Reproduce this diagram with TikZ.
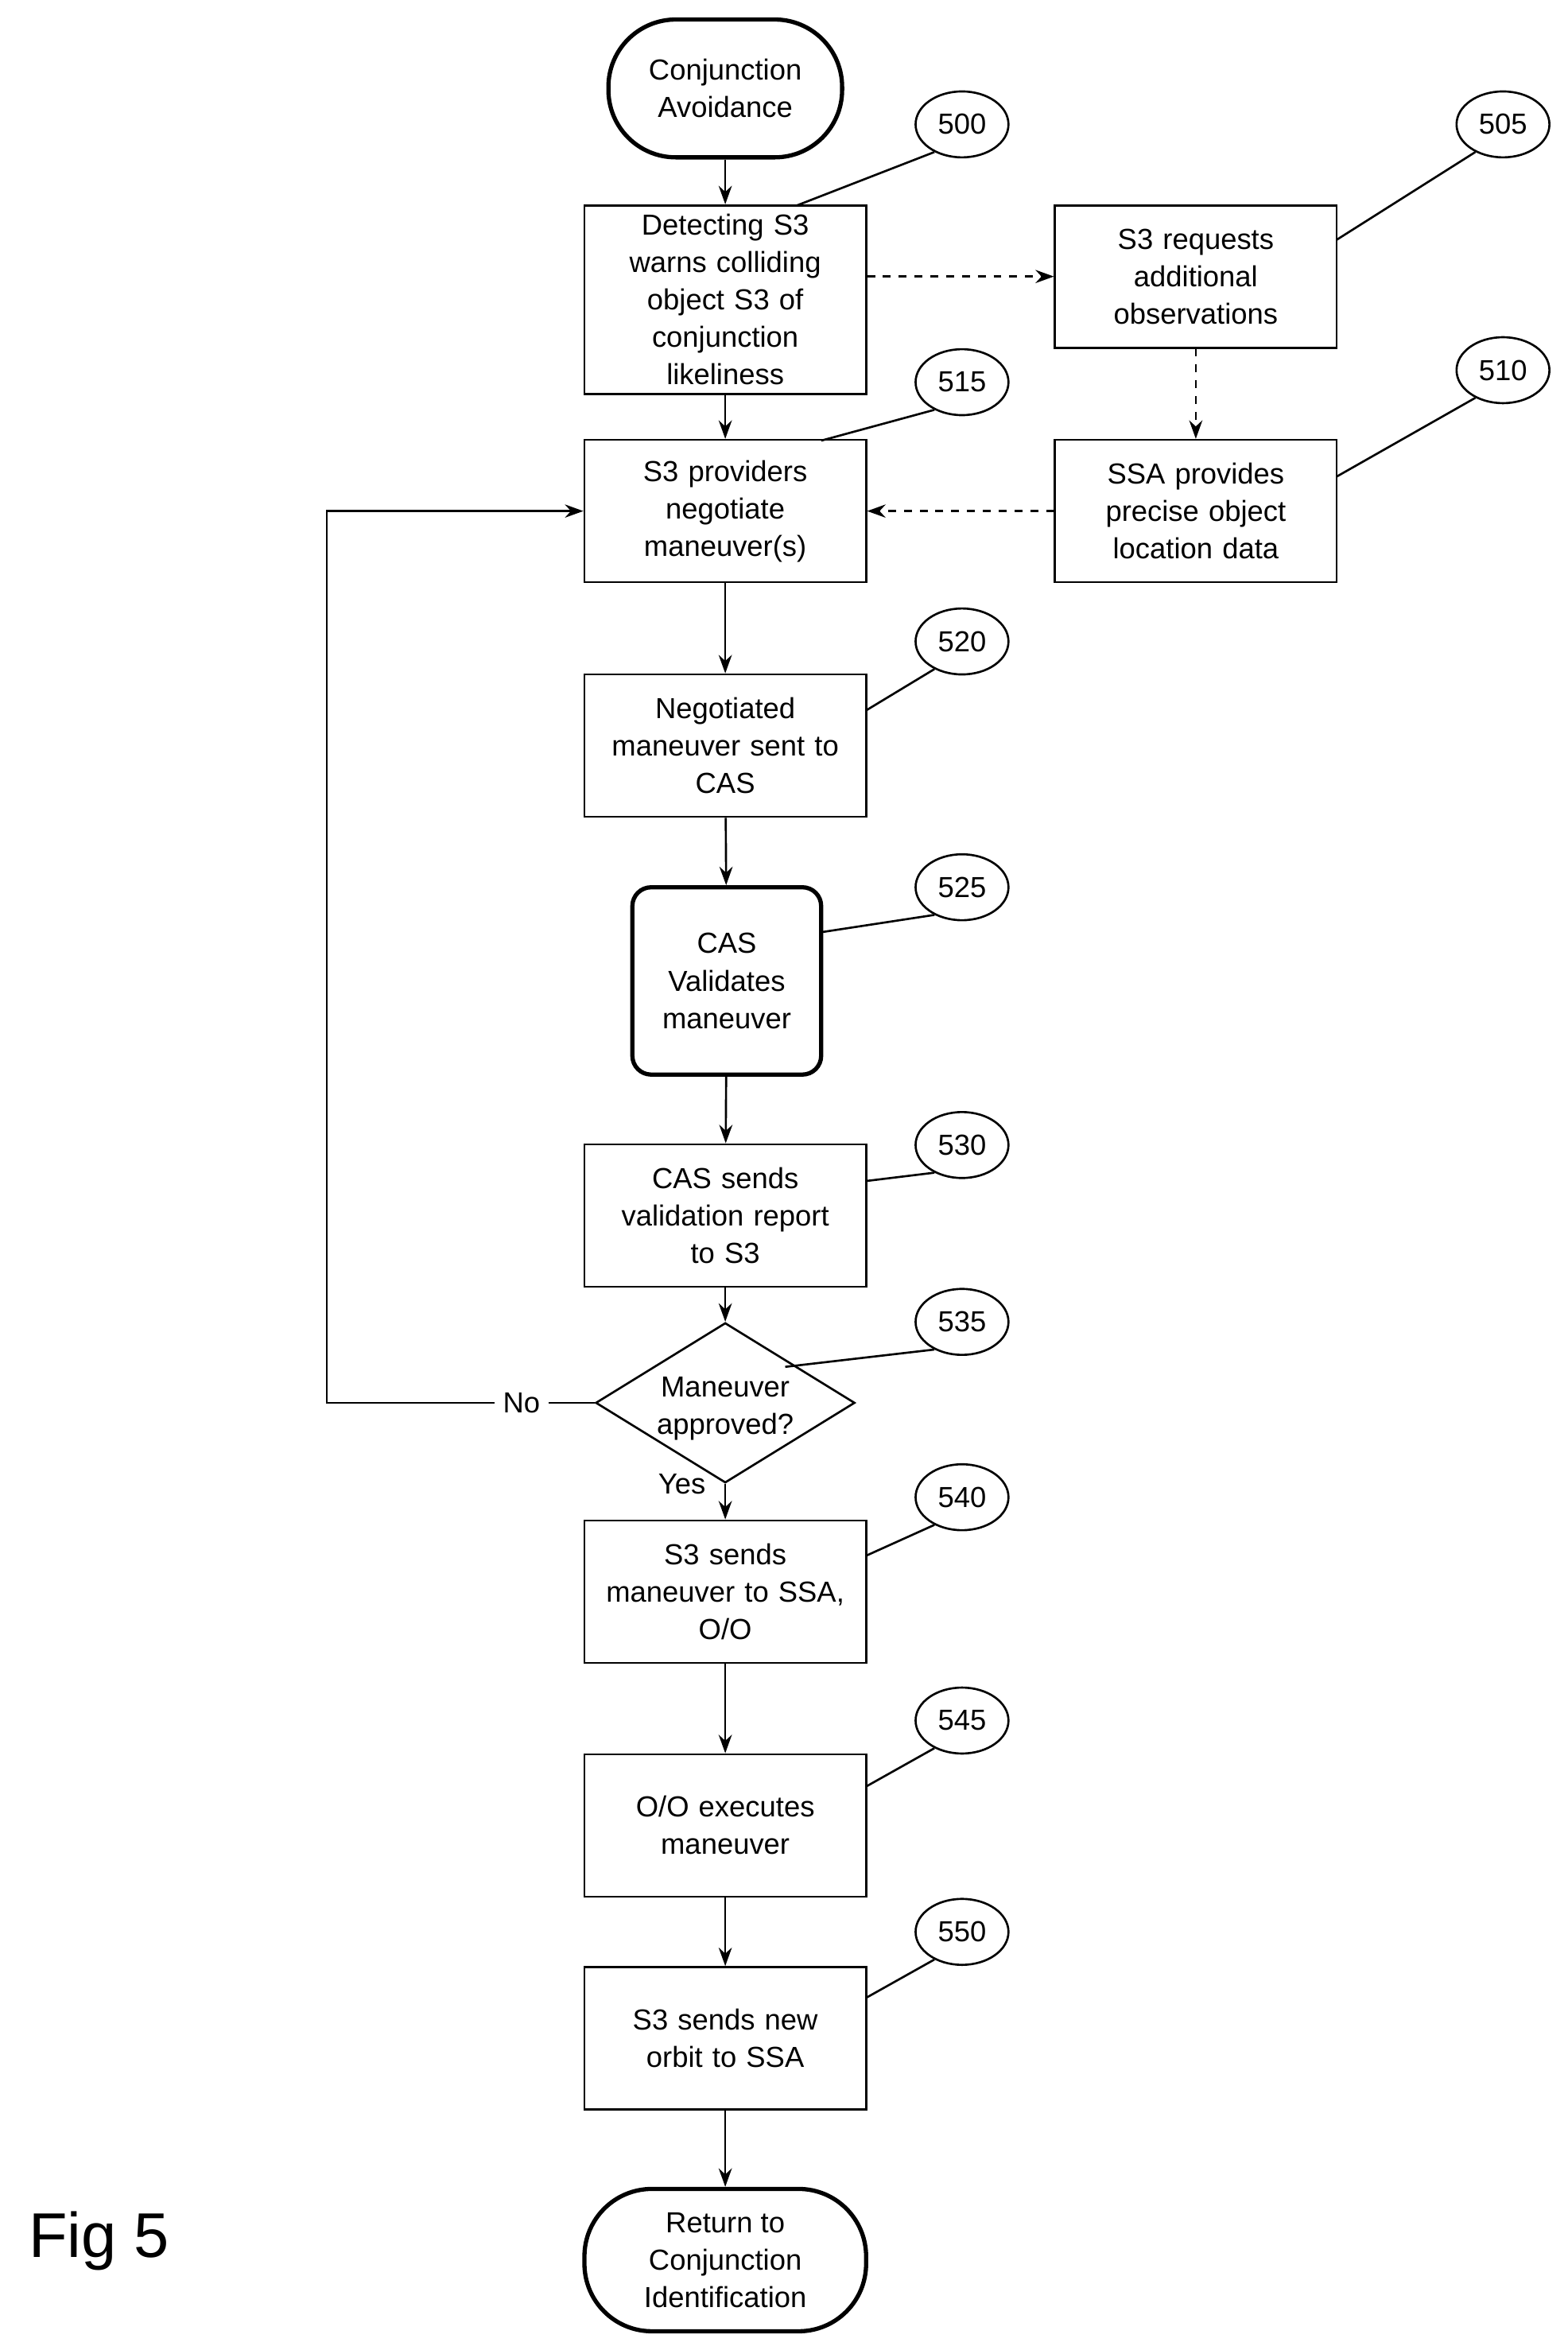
\documentclass[tikz,border=0pt]{standalone}
\usepackage{fontspec}
\setmainfont{Liberation Sans}
\usetikzlibrary{shapes.geometric,arrows.meta}
\begin{document}
\begin{tikzpicture}[x=0.02cm,y=-0.02cm,
% common options for blocks:
block/.style = {draw, line width=0.8pt, align=center, font=\fontsize{11}{14.2}\selectfont,
            minimum width=3.76cm, minimum height=1.9cm, inner sep=0, text width=3.6cm},
% terminals and the numbered tags:
term/.style = {draw, line width=1.6pt, rounded corners=0.9cm, align=center,
            font=\fontsize{11}{14.2}\selectfont, inner sep=0},
tag/.style = {ellipse, draw, line width=0.8pt, minimum width=1.24cm, minimum height=0.88cm,
            inner sep=0, font=\fontsize{11}{13}\selectfont},
flow/.style = {-{Stealth[length=7pt,width=5pt]}, line width=0.8pt},
dflow/.style = {flow, dashed}]
\useasboundingbox (0,0) rectangle (1046,1568);
\node[term, minimum width=3.12cm, minimum height=1.84cm] (start) at (484,59) {Conjunction\\Avoidance};
\node[block, minimum height=2.52cm] (A0) at (484,200) {Detecting S3\\warns colliding\\object S3 of\\conjunction\\likeliness};
\node[block] (B0) at (798,184.5) {S3 requests\\additional\\observations};
\node[block] (A1) at (484,341) {S3 providers\\negotiate\\maneuver(s)};
\node[block] (B1) at (798,341) {SSA provides\\precise object\\location data};
\node[block] (A2) at (484,497.5) {Negotiated\\maneuver sent to\\CAS};
\node[term, rounded corners=0.25cm, minimum width=2.52cm, minimum height=2.5cm] (A3) at (485,654.5) {CAS\\Validates\\maneuver};
\node[block] (A4) at (484,811) {CAS sends\\validation report\\to S3};
\node[diamond, draw, line width=0.8pt, aspect=1.62, minimum width=3.12cm, minimum height=1.92cm, inner sep=0,
      align=center, font=\fontsize{11}{14.2}\selectfont] (A5) at (484,936) {\\[-2pt]Maneuver\\approved?};
\node[block] (A6) at (484,1062) {S3 sends\\maneuver to SSA,\\O/O};
\node[block] (A7) at (484,1218) {O/O executes\\maneuver};
\node[block] (A8) at (484,1360) {S3 sends new\\orbit to SSA};
\node[term, minimum width=3.76cm, minimum height=1.9cm] (stop) at (484,1508) {Return to\\Conjunction\\Identification};
\node[font=\fontsize{24}{28}\selectfont] (fig) at (66,1495) {Fig 5};
% numbered tags
\foreach \t/\x/\y/\tx/\ty in {500/642/83/532/137, 505/1003/83/892/160, 515/642/255/548/294,
  510/1003/247/892/318, 520/642/428/578/474, 525/642/592/548/622, 530/642/764/578/788,
  535/642/882/524/912, 540/642/999/578/1038, 545/642/1148/578/1192, 550/642/1289/578/1333} {
  \node[tag] (t\t) at (\x,\y) {\t};
  \coordinate (e\t) at (\tx,\ty);
  \draw[line width=0.8pt] (t\t.225) -- (e\t);
}
% connectors
\draw[flow] (start) -- (A0);
\draw[flow] (A0) -- (A1);
\draw[flow] (A1) -- (A2);
\draw[flow] (A2) -- (A3);
\draw[flow] (A3) -- (A4);
\draw[flow] (A4) -- (A5);
\draw[flow] (A5) -- (A6);
\draw[flow] (A6) -- (A7);
\draw[flow] (A7) -- (A8);
\draw[flow] (A8) -- (stop);
\draw[dflow] (A0.east |- B0) -- (B0.west);
\draw[dflow] (B0) -- (B1);
\draw[dflow] (B1) -- (A1);
\coordinate (loop) at (218,341);
\draw[flow] (A5.west) -- (loop |- A5.west) -- (loop) -- (A1.west);
\node[fill=white, font=\fontsize{11}{13}\selectfont] (no) at (348,936) {No};
\node[font=\fontsize{11}{13}\selectfont] (yes) at (455,990) {Yes};
\end{tikzpicture}
\end{document}
